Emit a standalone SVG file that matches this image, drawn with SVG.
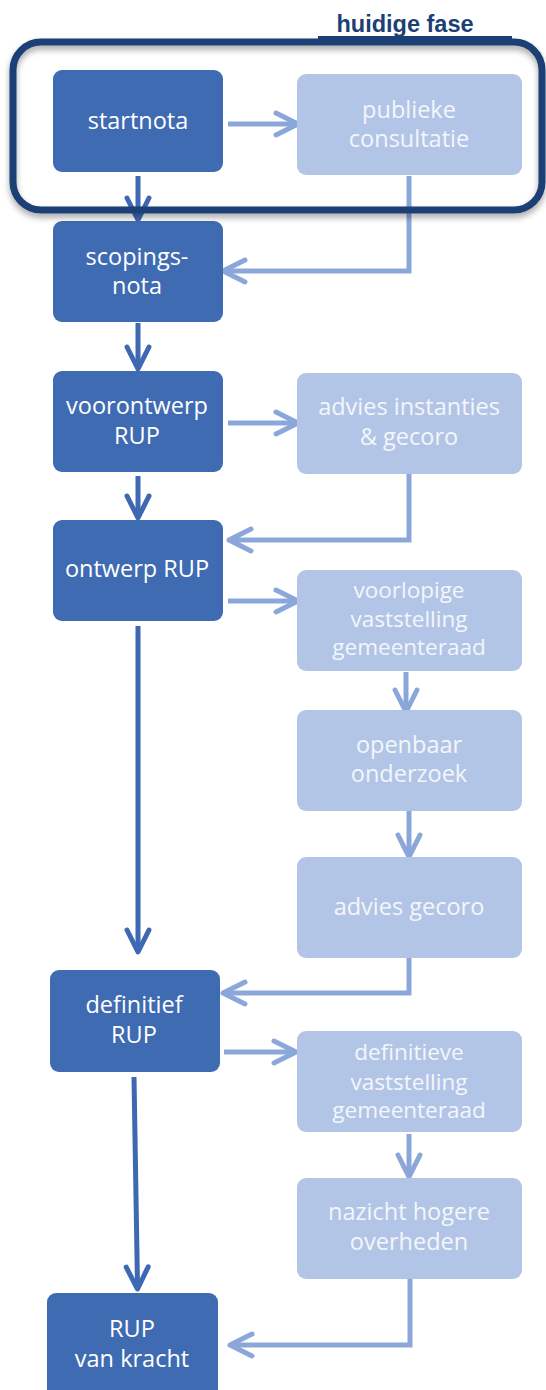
<svg xmlns="http://www.w3.org/2000/svg" width="546" height="1390" viewBox="0 0 546 1390">
<style>
.dk{fill:#3F6BB3}
.lt{fill:#B3C5E6}
.t{font-family:"Open Sans","Noto Sans",sans-serif;font-size:23.5px;text-anchor:middle}
.s{font-size:22.5px}
.tw{fill:#FFFFFF}
.tl{fill:#F3F6FB}
.cl{fill:none;stroke:#8BA7D9;stroke-width:5}
.cd{fill:none;stroke:#3E69B2;stroke-width:5}
</style>
<defs>
<marker id="ml" markerUnits="userSpaceOnUse" markerWidth="40" markerHeight="40" viewBox="-30 -20 40 40" refX="-3" refY="0" orient="auto" overflow="visible">
<path d="M-22,-11 L0,0 L-22,11" fill="none" stroke="#8BA7D9" stroke-width="5" stroke-linecap="round" stroke-linejoin="round"/>
</marker>
<marker id="md" markerUnits="userSpaceOnUse" markerWidth="40" markerHeight="40" viewBox="-30 -20 40 40" refX="-3" refY="0" orient="auto" overflow="visible">
<path d="M-22,-11 L0,0 L-22,11" fill="none" stroke="#3E69B2" stroke-width="5" stroke-linecap="round" stroke-linejoin="round"/>
</marker>
<filter id="sh" x="-10%" y="-20%" width="120%" height="150%">
<feDropShadow dx="0" dy="4" stdDeviation="3" flood-color="#000" flood-opacity="0.35"/>
</filter>
</defs>

<g id="connectors">
<path class="cl" d="M228,124 H295" marker-end="url(#ml)"/>
<path class="cl" d="M409,176 V271 H226" marker-end="url(#ml)"/>
<path class="cl" d="M228,423 H295" marker-end="url(#ml)"/>
<path class="cl" d="M409,474 V540 H232" marker-end="url(#ml)"/>
<path class="cl" d="M228,601 H295" marker-end="url(#ml)"/>
<path class="cl" d="M406,672 V709" marker-end="url(#ml)"/>
<path class="cl" d="M409,811 V854" marker-end="url(#ml)"/>
<path class="cl" d="M409,958 V993 H226" marker-end="url(#ml)"/>
<path class="cl" d="M224,1052 H293" marker-end="url(#ml)"/>
<path class="cl" d="M409,1134 V1174" marker-end="url(#ml)"/>
<path class="cl" d="M410,1279 V1345 H233" marker-end="url(#ml)"/>
<path class="cd" d="M138,176 V217" marker-end="url(#md)"/>
<path class="cd" d="M138,323 V366" marker-end="url(#md)"/>
<path class="cd" d="M138,476 V515" marker-end="url(#md)"/>
<path class="cd" d="M138,626 V949" marker-end="url(#md)"/>
<path class="cd" d="M134,1077 L137.5,1286" marker-end="url(#md)"/>
</g>

<g id="startnota">
<rect class="dk" x="53" y="70" width="170" height="102" rx="9"/>
<text class="t tw" x="138" y="129">startnota</text>
</g>
<g id="publieke-consultatie">
<rect class="lt" x="297" y="74" width="225" height="101" rx="9"/>
<text class="t tl" x="409" y="118">publieke</text>
<text class="t tl" x="409" y="147">consultatie</text>
</g>
<g id="scopingsnota">
<rect class="dk" x="53" y="221" width="170" height="101" rx="9"/>
<text class="t tw" x="137" y="265">scopings-</text>
<text class="t tw" x="137" y="294">nota</text>
</g>
<g id="voorontwerp-rup">
<rect class="dk" x="53" y="371" width="170" height="101" rx="9"/>
<text class="t tw" x="137" y="414">voorontwerp</text>
<text class="t tw" x="137" y="444">RUP</text>
</g>
<g id="advies-instanties">
<rect class="lt" x="297" y="373" width="225" height="101" rx="9"/>
<text class="t tl" x="409" y="415">advies instanties</text>
<text class="t tl" x="409" y="445">&amp; gecoro</text>
</g>
<g id="ontwerp-rup">
<rect class="dk" x="53" y="520" width="170" height="101" rx="9"/>
<text class="t tw" x="137" y="577">ontwerp RUP</text>
</g>
<g id="voorlopige-vaststelling">
<rect class="lt" x="297" y="570" width="225" height="101" rx="9"/>
<text class="t s tl" x="409" y="598">voorlopige</text>
<text class="t s tl" x="409" y="627">vaststelling</text>
<text class="t s tl" x="409" y="655">gemeenteraad</text>
</g>
<g id="openbaar-onderzoek">
<rect class="lt" x="297" y="710" width="225" height="101" rx="9"/>
<text class="t tl" x="409" y="753">openbaar</text>
<text class="t tl" x="409" y="782">onderzoek</text>
</g>
<g id="advies-gecoro">
<rect class="lt" x="297" y="857" width="225" height="101" rx="9"/>
<text class="t tl" x="409" y="915">advies gecoro</text>
</g>
<g id="definitief-rup">
<rect class="dk" x="50" y="970" width="170" height="102" rx="9"/>
<text class="t tw" x="134" y="1013">definitief</text>
<text class="t tw" x="134" y="1043">RUP</text>
</g>
<g id="definitieve-vaststelling">
<rect class="lt" x="297" y="1031" width="225" height="101" rx="9"/>
<text class="t s tl" x="409" y="1060">definitieve</text>
<text class="t s tl" x="409" y="1090">vaststelling</text>
<text class="t s tl" x="409" y="1118">gemeenteraad</text>
</g>
<g id="nazicht-hogere-overheden">
<rect class="lt" x="297" y="1178" width="225" height="101" rx="9"/>
<text class="t tl" x="409" y="1220">nazicht hogere</text>
<text class="t tl" x="409" y="1250">overheden</text>
</g>
<g id="rup-van-kracht">
<rect class="dk" x="47" y="1293" width="171" height="110" rx="9"/>
<text class="t tw" x="132" y="1337">RUP</text>
<text class="t tw" x="132" y="1367">van kracht</text>
</g>

<g id="huidige-fase">
<rect x="13" y="42" width="529" height="168" rx="28" fill="none" stroke="#1C3F75" stroke-width="7" filter="url(#sh)"/>
<rect x="318" y="36" width="194" height="8" fill="#1C3F75"/>
<text x="405" y="32" font-family="'Liberation Sans',Arial,sans-serif" font-weight="bold" font-size="23.5" fill="#1C3F75" text-anchor="middle">huidige fase</text>
</g>
</svg>
